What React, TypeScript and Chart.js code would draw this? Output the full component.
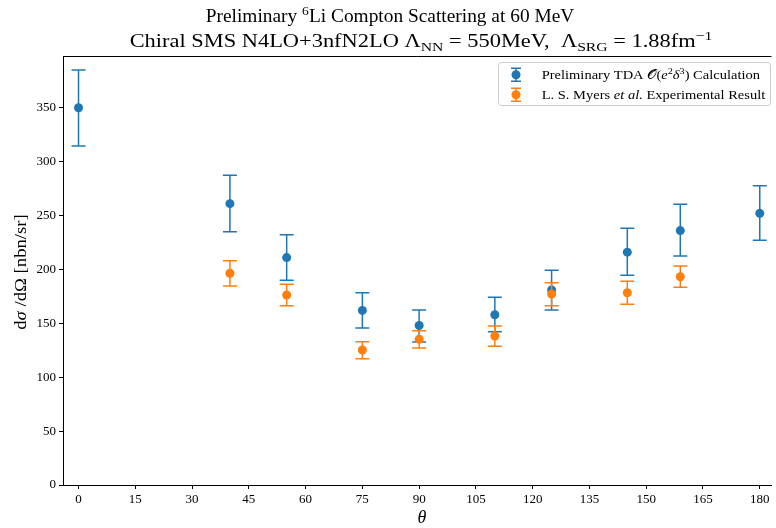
import React, { useEffect, useRef } from "react";
import { Chart, registerables } from "chart.js";

Chart.register(...registerables);

// ---------- data ----------
const tdaAngles = [0, 40, 55, 75, 90, 110, 125, 145, 159, 180];
const tdaValues = [350, 261, 211, 162, 148, 158, 181, 216, 236, 252];
const tdaLow = [314.5, 235, 190, 145.6, 132.7, 142.2, 162.3, 194.5, 212.4, 227];
const tdaHigh = [385, 287.3, 232.2, 178.4, 162.3, 174.1, 199.2, 238.1, 260.4, 277.6];

const expAngles = [40, 55, 75, 90, 110, 125, 145, 159];
const expValues = [196.4, 176.3, 125.2, 135.2, 138.2, 177.2, 178.4, 193.2];
const expLow = [184.6, 166.3, 117.2, 127.1, 128.7, 166.3, 167.6, 183.4];
const expHigh = [208.1, 186.2, 132.9, 143.2, 147.5, 187.7, 189.0, 203.2];

const xTickValues = [0, 15, 30, 45, 60, 75, 90, 105, 120, 135, 150, 165, 180];
const yTickValues = [0, 50, 100, 150, 200, 250, 300, 350];

const BLUE = "#1f77b4";
const ORANGE = "#ff7f0e";
const FAMILY = '"Liberation Serif", "DejaVu Serif", serif';

type Seg = { t: string; it?: boolean; sup?: boolean; sub?: boolean };

const titleLine1: Seg[] = [
  { t: "Preliminary " },
  { t: "6", sup: true },
  { t: "Li Compton Scattering at 60 MeV" },
];
const titleLine2: Seg[] = [
  { t: "Chiral SMS N4LO+3nfN2LO " },
  { t: "Λ" },
  { t: "NN", sub: true },
  { t: " = 550MeV,  Λ" },
  { t: "SRG", sub: true },
  { t: " = 1.88fm" },
  { t: "−1", sup: true },
];
const yLabel: Seg[] = [
  { t: "d" },
  { t: "σ", it: true },
  { t: " /d" },
  { t: "Ω" },
  { t: " [nbn/sr]" },
];
const xLabel: Seg[] = [{ t: "θ", it: true }];
const legendRow1: Seg[] = [
  { t: "Preliminary TDA " },
  { t: "𝒪" },
  { t: "(" },
  { t: "e", it: true },
  { t: "2", sup: true },
  { t: "δ", it: true },
  { t: "3", sup: true },
  { t: ") Calculation" },
];
const legendRow2: Seg[] = [
  { t: "L. S. Myers " },
  { t: "et al.", it: true },
  { t: " Experimental Result" },
];

function drawRich(
  ctx: CanvasRenderingContext2D,
  segs: Seg[],
  x: number,
  y: number,
  size: number,
  align: "center" | "left",
  sx = 1
) {
  const fontFor = (s: Seg) =>
    `${s.it ? "italic " : ""}${s.sup || s.sub ? size * 0.7 : size}px ${FAMILY}`;
  const widths = segs.map((s) => {
    ctx.font = fontFor(s);
    return ctx.measureText(s.t).width;
  });
  const total = widths.reduce((a, b) => a + b, 0);
  ctx.save();
  ctx.translate(x, y);
  ctx.scale(sx, 1);
  let cx = align === "center" ? -total / 2 : 0;
  ctx.textAlign = "left";
  ctx.textBaseline = "alphabetic";
  segs.forEach((s, i) => {
    ctx.font = fontFor(s);
    const dy = s.sup ? -size * 0.38 : s.sub ? size * 0.22 : 0;
    ctx.fillText(s.t, cx, dy);
    cx += widths[i];
  });
  ctx.restore();
}

function drawErrorMarker(
  ctx: CanvasRenderingContext2D,
  x: number,
  yTop: number,
  yBot: number,
  cap: number,
  color: string
) {
  ctx.strokeStyle = color;
  ctx.lineWidth = 1.5;
  ctx.beginPath();
  ctx.moveTo(x, yTop);
  ctx.lineTo(x, yBot);
  ctx.moveTo(x - cap, yTop);
  ctx.lineTo(x + cap, yTop);
  ctx.moveTo(x - cap, yBot);
  ctx.lineTo(x + cap, yBot);
  ctx.stroke();
}

export default function App() {
  const ref = useRef<HTMLCanvasElement | null>(null);

  useEffect(() => {
    if (!ref.current) return;
    const errors = [
      { low: tdaLow, high: tdaHigh, color: BLUE },
      { low: expLow, high: expHigh, color: ORANGE },
    ];

    const errorBarPlugin = {
      id: "errorBars",
      beforeDatasetDraw(chart: any, args: any) {
        const e = errors[args.index];
        if (!e) return;
        const ctx = chart.ctx;
        const ys = chart.scales.y;
        ctx.save();
        args.meta.data.forEach((pt: any, j: number) => {
          drawErrorMarker(
            ctx,
            pt.x,
            ys.getPixelForValue(e.high[j]),
            ys.getPixelForValue(e.low[j]),
            7,
            e.color
          );
        });
        ctx.restore();
      },
    };

    const decorPlugin = {
      id: "decor",
      afterDraw(chart: any) {
        const ctx = chart.ctx;
        const a = chart.chartArea;
        ctx.save();
        // top spine
        ctx.strokeStyle = "#000";
        ctx.lineWidth = 1;
        ctx.beginPath();
        ctx.moveTo(a.left, a.top + 0.5);
        ctx.lineTo(a.right, a.top + 0.5);
        ctx.stroke();

        ctx.fillStyle = "#000";
        // title
        drawRich(ctx, titleLine1, 390, 22, 19, "center", 1.02);
        drawRich(ctx, titleLine2, 421, 47, 19, "center", 1.18);
        // x label
        drawRich(ctx, xLabel, 422, 523, 18, "center");
        // y label
        ctx.save();
        ctx.translate(26, 272);
        ctx.rotate(-Math.PI / 2);
        drawRich(ctx, yLabel, 0, 0, 17, "center", 1.1);
        ctx.restore();

        // legend
        const lx = 498.5, ly = 62.5, lw = 272, lh = 43;
        ctx.beginPath();
        ctx.roundRect(lx, ly, lw, lh, 3);
        ctx.fillStyle = "rgba(255,255,255,0.8)";
        ctx.fill();
        ctx.strokeStyle = "#cccccc";
        ctx.lineWidth = 1;
        ctx.stroke();
        const rows = [
          { y: 74.7, color: BLUE, segs: legendRow1 },
          { y: 94.7, color: ORANGE, segs: legendRow2 },
        ];
        rows.forEach((r) => {
          drawErrorMarker(ctx, 516, r.y - 6.5, r.y + 6.5, 5, r.color);
          ctx.fillStyle = r.color;
          ctx.beginPath();
          ctx.arc(516, r.y, 4.5, 0, Math.PI * 2);
          ctx.fill();
          ctx.fillStyle = "#000";
          drawRich(ctx, r.segs, 541.7, r.y + 4, 12.5, "left", 1.16);
        });
        ctx.restore();
      },
    };

    const tickFont = { family: FAMILY, size: 13 };
    const chart = new Chart(ref.current, {
      type: "scatter",
      data: {
        datasets: [
          {
            label: "Preliminary TDA Calculation",
            data: tdaAngles.map((x, i) => ({ x, y: tdaValues[i] })),
            backgroundColor: BLUE,
            borderColor: BLUE,
            pointRadius: 4.5,
            pointBorderWidth: 0,
            order: 2,
          },
          {
            label: "L. S. Myers et al. Experimental Result",
            data: expAngles.map((x, i) => ({ x, y: expValues[i] })),
            backgroundColor: ORANGE,
            borderColor: ORANGE,
            pointRadius: 4.5,
            pointBorderWidth: 0,
            order: 1,
          },
        ],
      },
      options: {
        animation: false,
        responsive: false,
        devicePixelRatio: 1,
        layout: { padding: { top: 56, right: 0, left: 0, bottom: 0 } },
        plugins: {
          legend: { display: false },
          tooltip: { enabled: false },
          title: { display: false },
        },
        scales: {
          x: {
            type: "linear",
            min: -4.1,
            max: 183.1,
            afterBuildTicks: (s: any) => {
              s.ticks = xTickValues.map((v) => ({ value: v }));
            },
            afterFit: (s: any) => {
              s.height = 43;
            },
            ticks: {
              font: tickFont,
              color: "#000",
              maxRotation: 0,
              autoSkip: false,
              padding: 3,
              includeBounds: false,
            },
            grid: {
              drawOnChartArea: false,
              drawTicks: true,
              tickLength: 4,
              color: "#000",
            },
            border: { color: "#000", width: 1 },
          },
          y: {
            type: "linear",
            min: 0,
            max: 398,
            afterBuildTicks: (s: any) => {
              s.ticks = yTickValues.map((v) => ({ value: v }));
            },
            afterFit: (s: any) => {
              s.width = 63;
            },
            ticks: {
              font: tickFont,
              color: "#000",
              padding: 3,
              includeBounds: false,
            },
            grid: {
              drawOnChartArea: false,
              drawTicks: true,
              tickLength: 4,
              color: "#000",
            },
            border: { color: "#000", width: 1 },
          },
        },
      },
      plugins: [errorBarPlugin, decorPlugin],
    } as any);
    return () => chart.destroy();
  }, []);

  return (
    <div style={{ position: "absolute", left: 0, top: 0, width: 776, height: 528, background: "#fff" }}>
      <canvas ref={ref} width={776} height={528} style={{ display: "block" }} />
    </div>
  );
}
